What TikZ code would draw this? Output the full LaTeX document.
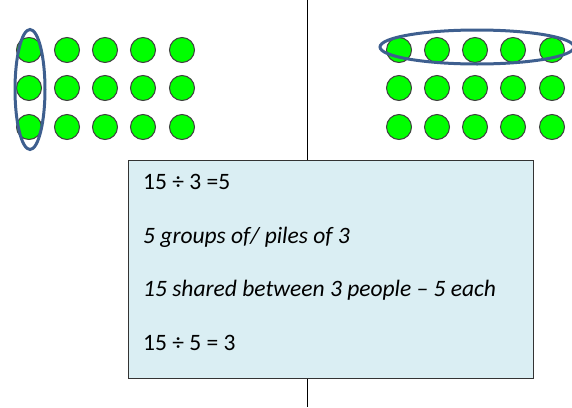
\documentclass[tikz,border=0pt]{standalone}
\usepackage{fontspec}
\setmainfont{Carlito}
\definecolor{dotgreen}{HTML}{00FF00}
\definecolor{ringblue}{HTML}{3E5F8F}
\definecolor{boxfill}{HTML}{DAEEF3}
\begin{document}
\begin{tikzpicture}[x=1pt,y=-1pt,
  dot/.style={circle,draw=black!75,line width=1pt,fill=dotgreen,minimum size=25pt,inner sep=0pt},
  ring/.style={draw=ringblue,line width=3pt},
  lbl/.style={anchor=west,font=\fontsize{23.5}{26}\selectfont,inner sep=0pt}]
\useasboundingbox (0,0) rectangle (572,407);
\draw[line width=1pt] (307,0) -- (307,407);
\foreach \x [count=\i] in {29,67,105,143,182}{
  \foreach \y [count=\j] in {50,88,127}{
    \node[dot] (L\i\j) at (\x,\y) {};
  }
}
\foreach \x [count=\i] in {399,437,475,513,552}{
  \foreach \y [count=\j] in {50,88,127}{
    \node[dot] (R\i\j) at (\x,\y) {};
  }
}
\draw[ring] (30,89.5) ellipse (15 and 60);
\draw[ring] (477,47) ellipse (97 and 17);
\node[draw=black!80,line width=1.2pt,fill=boxfill,minimum width=405pt,minimum height=218pt,anchor=north west,inner sep=0pt] (box) at (128,160) {};
\node[lbl] (t1) at (143,182) {15 ÷ 3 =5};
\node[lbl] (t2) at (143,237) {\itshape 5 groups of/ piles of 3};
\node[lbl] (t3) at (143,290) {\itshape 15 shared between 3 people – 5 each};
\node[lbl] (t4) at (143,343) {15 ÷ 5 = 3};
\end{tikzpicture}
\end{document}
